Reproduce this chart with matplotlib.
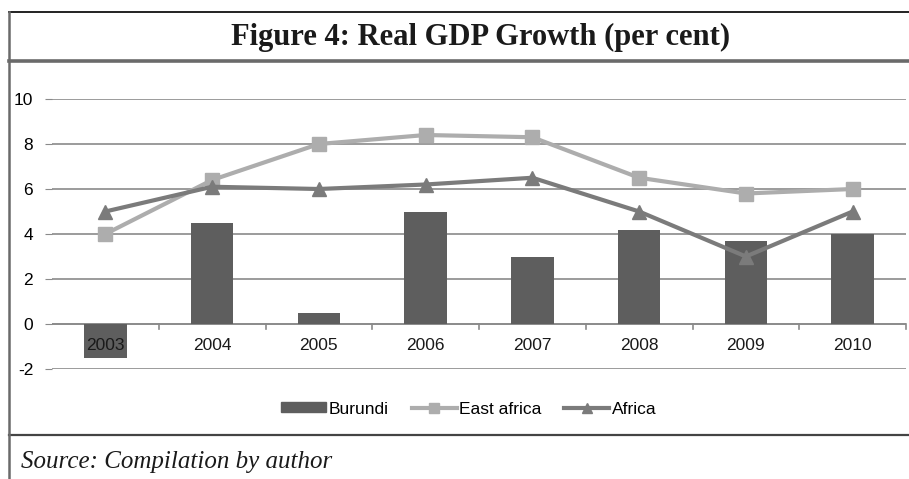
import numpy as np
import matplotlib
matplotlib.use("Agg")
import matplotlib.pyplot as plt
from matplotlib.lines import Line2D
from matplotlib.patches import Patch

# data
years = ["2003", "2004", "2005", "2006", "2007", "2008", "2009", "2010"]
burundi = [-1.5, 4.5, 0.5, 5.0, 3.0, 4.2, 3.7, 4.0]
east_africa = [4.0, 6.4, 8.0, 8.4, 8.3, 6.5, 5.8, 6.0]
africa = [5.0, 6.1, 6.0, 6.2, 6.5, 5.0, 3.0, 5.0]
yticks = [-2, 0, 2, 4, 6, 8, 10]

c_bar = "#5e5e5e"
c_east = "#adadad"
c_afr = "#7b7b7b"

fig = plt.figure(figsize=(9.09, 4.79), dpi=100)
W, H = 909, 479

# frame lines
def hline(y, x0, x1, color, lw):
	fig.add_artist(Line2D([x0 / W, x1 / W], [1 - y / H, 1 - y / H], color=color, lw=lw))

hline(12, 9, 909, "#222222", 1.4)
hline(61, 9, 909, "#6a6a6a", 2.6)
hline(435, 9, 909, "#444444", 1.6)
fig.add_artist(Line2D([9 / W, 9 / W], [1 - 12 / H, 0], color="#6a6a6a", lw=1.8))

fig.text(481 / W, 1 - 37 / H, "Figure 4: Real GDP Growth (per cent)", ha="center", va="center",
	fontsize=22, fontweight="bold", family="Liberation Serif", color="#1a1a1a")
fig.text(21 / W, 1 - 462 / H, "Source: Compilation by author", ha="left", va="center",
	fontsize=18, style="italic", family="Liberation Serif", color="#1a1a1a")

ax = fig.add_axes([52 / W, 1 - 369 / H, (906 - 52) / W, (369 - 99) / H])
x = np.arange(len(years))
ax.bar(x, burundi, width=0.4, color=c_bar, zorder=2)
ax.plot(x, east_africa, color=c_east, lw=3, marker="s", markersize=10, zorder=3)
ax.plot(x, africa, color=c_afr, lw=3, marker="^", markersize=10, zorder=4)

ax.set_xlim(-0.5, len(years) - 0.5)
ax.set_ylim(-2, 10)
ax.set_yticks(yticks)
ax.set_yticklabels([str(v) for v in yticks], family="Liberation Sans", fontsize=12.5)
ax.yaxis.grid(True, color="#8a8a8a", lw=1.2, zorder=0)
ax.tick_params(axis="y", length=5, color="#8a8a8a", pad=8.5)

# category labels sit at zero line, ticks at boundaries
ax.set_xticks(np.arange(len(years) + 1) - 0.5)
ax.set_xticklabels([])
ax.tick_params(axis="x", length=0)
for i, yr in enumerate(years):
	ax.text(i, -0.95, yr, ha="center", va="center", fontsize=12.5, family="Liberation Sans",
		color="#1a1a1a", zorder=5)
ax.axhline(0, color="#8a8a8a", lw=1.2, zorder=1)
for b in np.arange(1, len(years) + 1) - 0.5:
	ax.plot([b, b], [0, -0.22], color="#8a8a8a", lw=1.2, zorder=1, clip_on=False)

for s in ax.spines.values():
	s.set_visible(False)

handles = [
	Patch(color=c_bar),
	Line2D([], [], color=c_east, lw=3, marker="s", markersize=7),
	Line2D([], [], color=c_afr, lw=3, marker="^", markersize=7),
]
fig.legend(handles, ["Burundi", "East africa", "Africa"], loc="center",
	bbox_to_anchor=(469 / W, 1 - 409 / H), ncol=3, frameon=False,
	prop={"family": "Liberation Sans", "size": 12.5}, handlelength=2.6, handleheight=0.5,
	handletextpad=0.15, columnspacing=1.3)

fig.savefig("out.png", dpi=100)
